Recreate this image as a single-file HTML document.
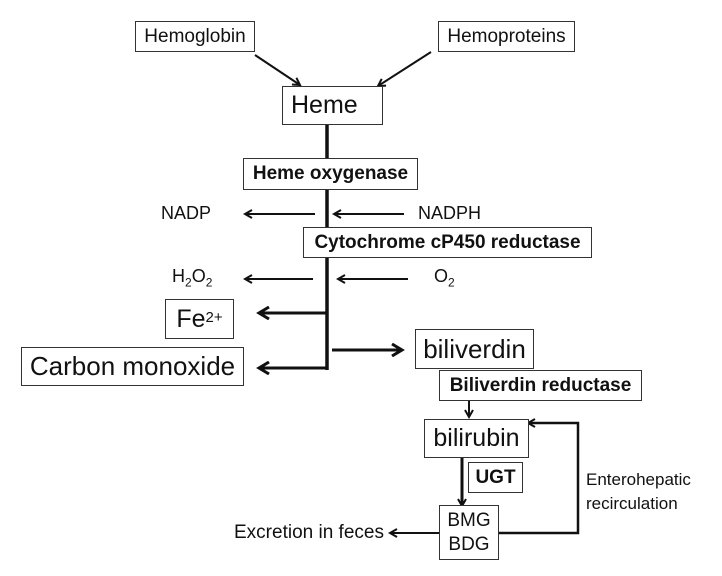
<!DOCTYPE html>
<html><head><meta charset="utf-8"><style>
body{margin:0;background:#fff;width:722px;height:576px;overflow:hidden;font-family:"Liberation Sans",sans-serif;}
.b{position:absolute;border:1.5px solid #333;box-sizing:border-box;display:flex;align-items:center;color:#111;background:#fff;white-space:nowrap;}
.t{position:absolute;color:#111;white-space:nowrap;}
svg{position:absolute;left:0;top:0}
</style></head><body>
<svg width="722" height="576">
<defs>
<marker id="a" markerWidth="10" markerHeight="10" refX="8" refY="5" orient="auto" markerUnits="userSpaceOnUse"><path d="M1,1 L8,5 L1,9" fill="none" stroke="#111" stroke-width="2"/></marker>
<marker id="A" markerWidth="14" markerHeight="14" refX="11" refY="7" orient="auto" markerUnits="userSpaceOnUse"><path d="M1,1 L11,7 L1,13" fill="none" stroke="#111" stroke-width="3"/></marker>
</defs>
<g stroke="#111" fill="none">
<line x1="255" y1="55" x2="300" y2="85" stroke-width="2" marker-end="url(#a)"/>
<line x1="431" y1="52" x2="378" y2="86" stroke-width="2" marker-end="url(#a)"/>
<line x1="327" y1="125" x2="327" y2="370" stroke-width="3.5"/>
<line x1="315" y1="214" x2="245" y2="214" stroke-width="2" marker-end="url(#a)"/>
<line x1="404" y1="214" x2="334" y2="214" stroke-width="2" marker-end="url(#a)"/>
<line x1="313" y1="279" x2="245" y2="279" stroke-width="2" marker-end="url(#a)"/>
<line x1="408" y1="279" x2="338" y2="279" stroke-width="2" marker-end="url(#a)"/>
<line x1="327" y1="313" x2="259" y2="313" stroke-width="3" marker-end="url(#A)"/>
<line x1="327" y1="368" x2="259" y2="368" stroke-width="3" marker-end="url(#A)"/>
<line x1="332" y1="350" x2="402" y2="350" stroke-width="3" marker-end="url(#A)"/>
<line x1="469" y1="401" x2="469" y2="417" stroke-width="2" marker-end="url(#a)"/>
<line x1="462" y1="458" x2="462" y2="506" stroke-width="3" marker-end="url(#a)"/>
<line x1="439" y1="533" x2="390" y2="533" stroke-width="2" marker-end="url(#a)"/>
<polyline points="499,533 578,533 578,423 528,423" stroke-width="2.5" marker-end="url(#a)"/>
</g></svg>
<div class="b" style="left:135px;top:21px;width:120px;height:31px;justify-content:center;font-size:19px">Hemoglobin</div>
<div class="b" style="left:438px;top:21px;width:137px;height:31px;justify-content:center;font-size:19px">Hemoproteins</div>
<div class="b" style="left:282px;top:86px;width:101px;height:39px;padding-left:8px;font-size:25px">Heme</div>
<div class="b" style="left:243px;top:158px;width:175px;height:32px;justify-content:center;font-size:19px;font-weight:bold">Heme oxygenase</div>
<div class="t" style="left:161px;top:203px;font-size:18px">NADP</div>
<div class="t" style="left:418px;top:203px;font-size:18px">NADPH</div>
<div class="b" style="left:303px;top:227px;width:289px;height:31px;justify-content:center;font-size:19px;font-weight:bold">Cytochrome cP450 reductase</div>
<div class="t" style="left:172px;top:266px;font-size:18px">H<sub style="font-size:12px">2</sub>O<sub style="font-size:12px">2</sub></div>
<div class="t" style="left:434px;top:266px;font-size:18px">O<sub style="font-size:12px">2</sub></div>
<div class="b" style="left:165px;top:299px;width:69px;height:40px;justify-content:center;font-size:25px">Fe<sup style="font-size:15px;position:relative;top:-2px">2+</sup></div>
<div class="b" style="left:21px;top:347px;width:223px;height:39px;justify-content:center;font-size:26px">Carbon monoxide</div>
<div class="b" style="left:415px;top:329px;width:119px;height:40px;justify-content:center;font-size:26px">biliverdin</div>
<div class="b" style="left:439px;top:370px;width:203px;height:31px;justify-content:center;font-size:19px;font-weight:bold">Biliverdin reductase</div>
<div class="b" style="left:424px;top:419px;width:105px;height:39px;justify-content:center;font-size:25px">bilirubin</div>
<div class="b" style="left:468px;top:462px;width:55px;height:31px;justify-content:center;font-size:19px;font-weight:bold">UGT</div>
<div class="b" style="left:439px;top:505px;width:60px;height:55px;justify-content:center;font-size:19px;text-align:center;line-height:24px;white-space:normal">BMG<br>BDG</div>
<div class="t" style="left:234px;top:522px;font-size:19px">Excretion in feces</div>
<div class="t" style="left:586px;top:468px;font-size:17px;line-height:24px">Enterohepatic<br>recirculation</div>
</body></html>
